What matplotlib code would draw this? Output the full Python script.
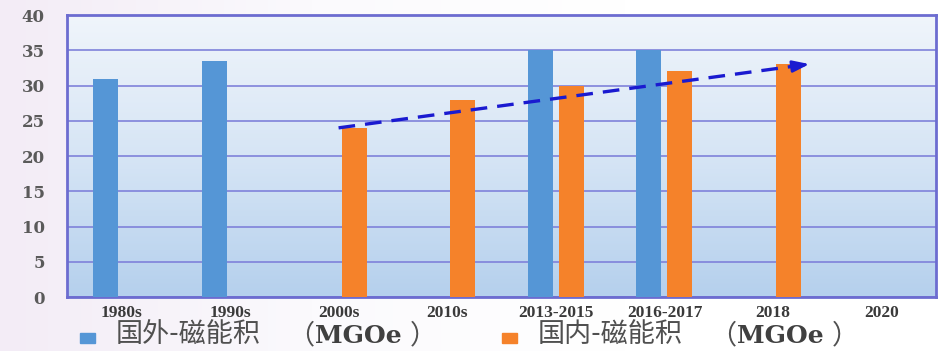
import numpy as np
import matplotlib
matplotlib.use("Agg")
import matplotlib.pyplot as plt
from matplotlib.colors import LinearSegmentedColormap
from matplotlib.patches import Rectangle

categories = ["1980s", "1990s", "2000s", "2010s", "2013-2015", "2016-2017", "2018", "2020"]
foreign = [31, 33.5, 0, 0, 35, 35, 0, 0]
domestic = [0, 0, 24, 28, 30, 32, 33, 0]
series_labels = [("国外-磁能积", "（", "MGOe", "）"), ("国内-磁能积", "（", "MGOe", "）")]
yticks = [0, 5, 10, 15, 20, 25, 30, 35, 40]
trend_x = [2.0, 6.36]
trend_y = [24, 33.1]

colors = ["#5596d6", "#f5822a"]

fig = plt.figure(figsize=(9.41, 3.51), dpi=100)
bg = fig.add_axes([0, 0, 1, 1], zorder=-10)
bg.set_axis_off()
grad = np.linspace(0, 1, 256)[None, :]
cm_bg = LinearSegmentedColormap.from_list("bgc", ["#f3ecf6", "#fbfafd", "#ffffff", "#ffffff"])
bg.imshow(grad, aspect="auto", cmap=cm_bg, extent=[0, 1, 0, 1], transform=bg.transAxes)

ax = fig.add_axes([0.0712, 0.1538, 0.9235, 0.8032])
x = np.arange(len(categories))
ax.set_xlim(-0.5, len(categories) - 0.5)
ax.set_ylim(0, 40)

cm_pa = LinearSegmentedColormap.from_list("pa", ["#b5d0ed", "#d6e5f5", "#f0f5fb"])
ax.imshow(np.linspace(0, 1, 256)[:, None], aspect="auto", cmap=cm_pa, origin="lower",
          extent=[0, 1, 0, 1], transform=ax.transAxes, zorder=0)

w = 0.23
off = 0.143
ax.bar(x - off, foreign, w, color=colors[0], zorder=3)
ax.bar(x + off, domestic, w, color=colors[1], zorder=3)

ax.set_yticks(yticks)
ax.set_xticks(x)
ax.set_xticklabels(categories)
ax.grid(axis="y", color="#7f82da", linewidth=1.2, zorder=1)
ax.set_axisbelow(True)
for s in ax.spines.values():
    s.set_color("#6c6cd0")
    s.set_linewidth(2)
ax.tick_params(length=0)
for lab in ax.get_yticklabels():
    lab.set_fontfamily("DejaVu Serif")
    lab.set_fontweight("bold")
    lab.set_fontsize(12)
    lab.set_color("#5a5a5a")
for lab in ax.get_xticklabels():
    lab.set_fontfamily("Liberation Serif")
    lab.set_fontweight("bold")
    lab.set_fontsize(12.5)
    lab.set_color("#3a3a3a")
ax.tick_params(axis="y", pad=16)
ax.tick_params(axis="x", pad=6)

# dashed trend arrow
ax.plot(trend_x, trend_y, color="#1a1ad0", linestyle=(0, (5, 3)), linewidth=2.4, zorder=5)
dx = trend_x[1] - trend_x[0]
dy = trend_y[1] - trend_y[0]
ax.annotate("", xy=(trend_x[1], trend_y[1]),
            xytext=(trend_x[1] - 0.05 * dx, trend_y[1] - 0.05 * dy),
            arrowprops=dict(arrowstyle="-|>,head_length=1.0,head_width=0.35",
                            color="#1a1ad0", lw=2), zorder=6)

# manual legend: square + Chinese (regular) + MGOe (bold serif)
W, H = fig.bbox.width, fig.bbox.height
yb = 1 - 343 / H
legend_offsets = [0, 422]
for parts, col, o in zip(series_labels, colors, legend_offsets):
    fig.patches.append(Rectangle(((80 + o) / W, 1 - 343 / H), 15 / W, 10 / H,
                                 transform=fig.transFigure, color=col, figure=fig))
    cn, lp, latin, rp = parts
    cjk = dict(fontfamily=["Noto Sans CJK SC"], fontweight="normal", fontsize=19.5,
               color="#505050", va="baseline")
    fig.text((116 + o) / W, yb, cn, ha="left", **cjk)
    fig.text((314 + o) / W, yb, lp, ha="right", **cjk)
    fig.text((315 + o) / W, yb, latin, ha="left", va="baseline", color="#404040",
             fontfamily=["DejaVu Serif"], fontweight="bold", fontsize=18)
    fig.text((410 + o) / W, yb, rp, ha="left", **cjk)

fig.savefig("out.png", dpi=100)
